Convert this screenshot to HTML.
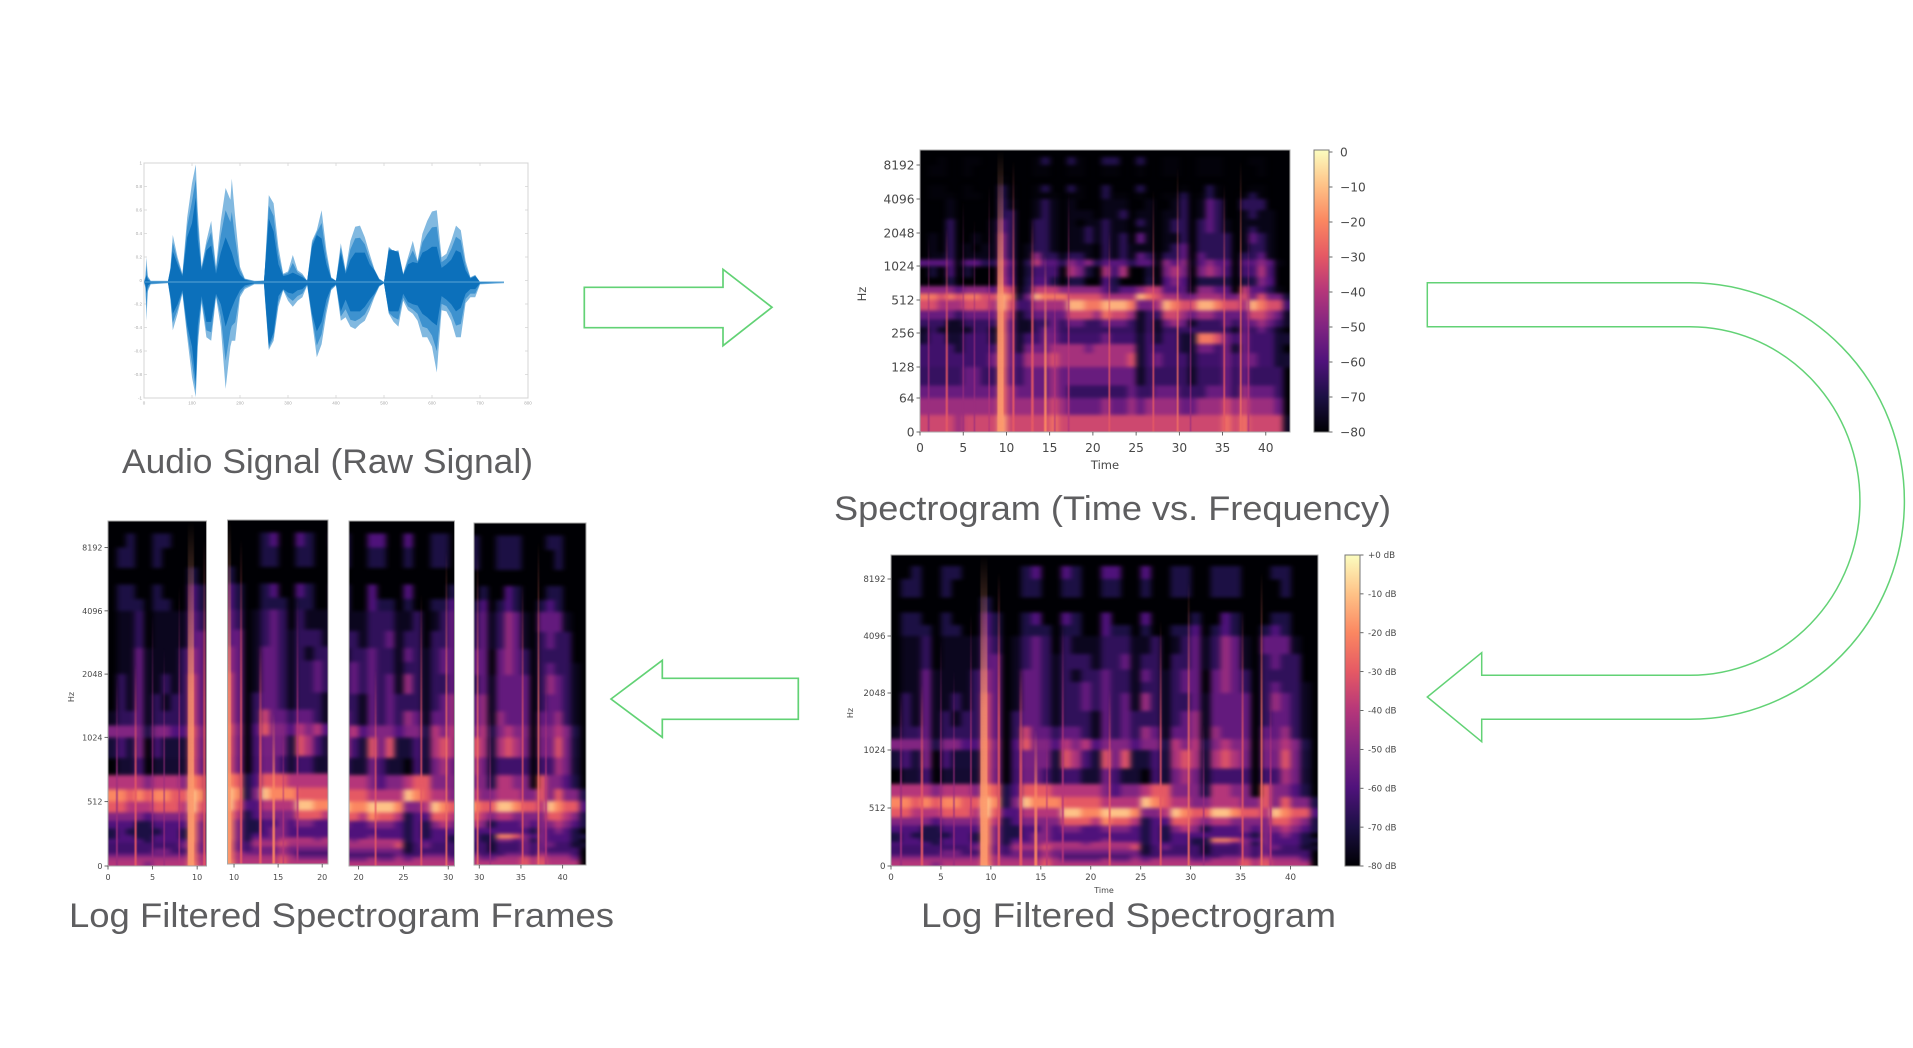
<!DOCTYPE html>
<html lang="en">
<head>
<meta charset="utf-8">
<title>Audio to Spectrogram Frames</title>
<style>
html,body{margin:0;padding:0;background:#fff;width:1913px;height:1048px;overflow:hidden}
svg{display:block}
.title{font-family:"Liberation Sans",sans-serif;font-size:34px;fill:#5e5e60}
.mpl{font-family:"DejaVu Sans",sans-serif;fill:#484848}
</style>
</head>
<body>
<svg id="root" xmlns="http://www.w3.org/2000/svg" width="1913" height="1048" viewBox="0 0 1913 1048">
  <defs>
    <filter id="cellBlur" filterUnits="userSpaceOnUse" x="0" y="0" width="1913" height="1048" color-interpolation-filters="sRGB"><feGaussianBlur stdDeviation="3 1.8"/></filter>
    <filter id="spikeBlur" filterUnits="userSpaceOnUse" x="0" y="0" width="1913" height="1048" color-interpolation-filters="sRGB"><feGaussianBlur stdDeviation="0.6"/></filter>
    <filter id="softBlur" filterUnits="userSpaceOnUse" x="0" y="0" width="1913" height="1048" color-interpolation-filters="sRGB"><feGaussianBlur stdDeviation="0.35"/></filter>
  </defs>
  <rect width="1913" height="1048" fill="#fff"/>

  <polygon points="584.3,287.3 723,287.3 723,269.3 772,307.3 723,345.7 723,327.7 584.3,327.7" fill="none" stroke="#62d275" stroke-width="1.7"/>
  <path d="M1427.3,282.7 H1690 A214.5,218.3 0 0 1 1690,719.3 H1481.7 V741.7 L1427.3,697 L1481.7,652.7 V675.3 H1690 A170,174.3 0 0 0 1690,326.7 H1427.3 Z" fill="none" stroke="#62d275" stroke-width="1.5"/>
  <polygon points="611,699 662.3,660.3 662.3,678.3 798.3,678.3 798.3,719.3 662.3,719.3 662.3,737.3" fill="none" stroke="#62d275" stroke-width="1.7"/>

  <text class="title" x="122" y="473" textLength="411" lengthAdjust="spacingAndGlyphs">Audio Signal (Raw Signal)</text>
  <text class="title" x="834" y="520" textLength="557" lengthAdjust="spacingAndGlyphs">Spectrogram (Time vs. Frequency)</text>
  <text class="title" x="921" y="927" textLength="415" lengthAdjust="spacingAndGlyphs">Log Filtered Spectrogram</text>
  <text class="title" x="69" y="927" textLength="545" lengthAdjust="spacingAndGlyphs">Log Filtered Spectrogram Frames</text>

  <g id="charts"></g>
</svg>

<script>
/* ---------- waveform data (amplitudes) ---------- */
const waveSamples = [0,3,5,8,14,50,55,60,70,80,90,100,108,112,120,130,140,150,160,170,180,183,190,200,210,220,230,250,252,260,270,280,290,300,310,320,330,340,350,360,370,380,390,400,410,420,430,440,450,460,470,480,490,500,510,520,530,540,550,560,570,580,590,600,610,620,630,640,650,660,670,680,690,700,750];
const waveLightUpper = [0,.05,.21,.05,.01,.01,.12,.40,.21,.07,.55,.84,1,.6,.13,.35,.52,.13,.52,.8,.7,.88,.55,.13,.03,.02,.01,.01,.13,.74,.67,.3,.07,.09,.23,.1,.07,.01,.35,.44,.61,.27,.04,.01,.33,.1,.35,.47,.48,.38,.24,.11,.03,0,.3,.26,.27,.07,.21,.35,.18,.41,.52,.6,.61,.21,.24,.35,.48,.44,.18,.04,.06,0,0];
const waveLightLower = [0,-.05,-.33,-.08,-.02,-.01,-.15,-.41,-.27,-.1,-.47,-.81,-.98,-.55,-.18,-.47,-.5,-.13,-.38,-.91,-.55,-.5,-.5,-.13,-.06,-.04,-.02,-.02,-.15,-.58,-.5,-.21,-.07,-.16,-.21,-.16,-.13,-.03,-.33,-.64,-.53,-.27,-.07,-.03,-.33,-.3,-.38,-.4,-.36,-.33,-.24,-.13,-.04,-.01,-.27,-.34,-.38,-.16,-.24,-.27,-.33,-.47,-.47,-.55,-.77,-.24,-.25,-.33,-.47,-.47,-.18,-.13,-.13,-.02,-.01];
const waveDarkUpper = [0,.02,.06,.02,.005,.005,.1,.26,.15,.05,.38,.5,.72,.36,.1,.27,.31,.07,.25,.38,.28,.25,.15,.06,.02,.01,.005,.01,.12,.54,.43,.15,.05,.06,.08,.06,.04,.01,.3,.4,.37,.15,.03,.01,.25,.07,.19,.25,.25,.25,.15,.1,.02,0,.27,.27,.25,.06,.15,.17,.16,.25,.27,.3,.3,.12,.15,.19,.27,.25,.1,.03,.05,0,0];
const waveDarkLower = [0,-.02,-.1,-.03,-.01,-.005,-.12,-.27,-.19,-.07,-.37,-.55,-.85,-.37,-.12,-.34,-.34,-.1,-.19,-.38,-.25,-.22,-.15,-.07,-.03,-.02,-.01,-.01,-.12,-.54,-.43,-.12,-.06,-.09,-.1,-.07,-.06,-.02,-.27,-.42,-.34,-.15,-.05,-.02,-.25,-.15,-.25,-.25,-.25,-.21,-.15,-.1,-.03,-.01,-.25,-.25,-.25,-.1,-.17,-.19,-.2,-.27,-.3,-.34,-.37,-.12,-.15,-.19,-.25,-.22,-.1,-.06,-.06,-.01,0];
const waveXTicks = [0,100,200,300,400,500,600,700,800];
const waveYTicks = [1,0.8,0.6,0.4,0.2,0,-0.2,-0.4,-0.6,-0.8,-1];

/* ---------- spectrogram data ---------- */
/* Lower edge of each frequency band in Hz (plus the final top edge). */
const bandEdgesHz = [0,32,64,90,128,181,215,256,304,362,430,512,609,724,861,1024,1218,1448,1722,2048,2435,2896,3444,4096,4871,5793,6889,8192,9742,11585];
/* Level per band and second. Row 0 = highest band, column 0 = t 0s. One level unit = 10 dB, 0 = -80 dB. */
const spectrogramLevels = [
[0,0,0,0,0, 0,0,0,0, 0,0,0, 0,1,1,0,0, 0,0,0,0, 1,1,1,0, 1,1,0, 0,0,0,0, 1,1,1,0,0, 0,1,1,0,0,0],
[0,1,2,0,0, 2,2,0,0, 1,0,0, 0,2,3,1,0, 3,2,1,0, 3,3,1,0, 3,1,0, 2,2,1,0, 2,2,2,0,0, 0,2,2,0,0,0],
[0,2,2,0,0, 2,1,0,0, 1,1,0, 0,2,2,1,0, 2,2,1,0, 2,2,1,0, 2,1,0, 2,2,0,0, 2,2,2,0,0, 0,1,2,0,0,0],
[0,0,0,0,0, 0,0,0,0, 2,1,0, 0,1,1,0,0, 1,1,0,0, 1,1,1,0, 1,1,0, 1,1,1,0, 1,1,1,0,0, 0,1,1,0,0,0],
[1,2,2,1,0, 2,1,0,0, 3,2,0, 0,2,3,1,0, 3,2,1,0, 3,1,1,0, 3,1,0, 1,1,2,0, 1,3,2,0,0, 1,2,2,0,0,0],
[1,2,2,2,0, 2,2,1,0, 3,2,0, 0,2,2,2,0, 2,2,1,0, 3,2,2,1, 2,1,0, 2,2,3,0, 2,3,2,1,0, 2,3,2,0,0,0],
[0,1,1,2,0, 1,1,1,1, 3,2,0, 1,2,3,2,0, 2,1,1,1, 2,2,2,1, 1,2,0, 1,2,3,1, 2,4,3,1,0, 3,3,3,1,0,0],
[0,1,1,2,0, 1,1,1,1, 3,3,0, 1,2,3,2,1, 2,2,2,1, 2,2,3,1, 2,2,0, 2,2,3,1, 2,4,3,1,0, 2,3,2,2,0,0],
[0,1,1,3,1, 1,1,1,2, 4,3,0, 1,3,3,2,1, 2,1,2,2, 3,2,2,1, 3,2,1, 2,3,3,0, 3,4,3,2,0, 2,2,2,2,0,0],
[0,1,1,3,1, 1,1,1,2, 4,3,0, 1,3,3,2,1, 2,2,3,2, 3,2,2,1, 2,2,1, 2,3,3,0, 3,4,3,2,0, 2,3,2,2,1,0],
[0,2,1,3,1, 1,2,1,2, 5,3,0, 1,3,3,2,1, 2,2,3,2, 3,2,3,1, 4,2,1, 2,2,3,1, 3,3,3,3,0, 2,4,3,2,1,0],
[0,2,1,3,1, 2,1,2,2, 5,3,0, 2,3,3,2,1, 2,2,2,1, 3,2,3,2, 2,2,1, 2,3,4,1, 3,3,3,3,0, 2,3,3,2,1,0],
[1,2,2,3,1, 2,2,2,2, 5,3,0, 2,5,3,3,2, 3,3,2,1, 3,2,3,2, 4,3,1, 3,3,4,1, 4,3,3,3,0, 3,3,4,2,1,0],
[3,3,3,3,1, 3,3,2,2, 5,3,0, 2,5,3,3,2, 4,3,4,2, 3,3,3,2, 3,3,1, 4,3,4,1, 3,4,3,3,0, 3,3,4,3,1,0],
[1,2,1,3,0, 2,1,1,1, 5,3,0, 2,3,3,3,1, 5,4,2,1, 5,3,5,1, 1,2,1, 4,5,4,1, 4,5,4,3,0, 3,3,5,3,1,0],
[0,1,1,2,0, 1,1,1,1, 5,3,0, 2,3,3,2,1, 2,2,1,1, 3,2,1,1, 0,2,1, 3,4,3,1, 2,2,2,2,0, 2,2,4,3,1,0],
[4,4,4,4,3, 4,4,4,3, 6,5,1, 2,5,5,5,4, 4,4,4,4, 3,2,3,3, 4,5,5, 3,3,3,1, 4,4,3,3,0, 5,3,3,2,1,0],
[6,6,5,6,5, 6,6,5,5, 7,6,1, 3,7,6,6,6, 5,5,5,5, 4,4,4,4, 7,6,5, 4,4,3,3, 4,4,4,3,3, 5,3,5,3,3,1],
[5,5,4,4,4, 5,5,5,4, 7,5,2, 2,4,4,4,4, 7,7,6,6, 7,7,7,6, 3,3,4, 7,6,5,5, 7,7,6,5,5, 4,7,6,5,5,2],
[3,3,3,3,2, 3,3,3,3, 6,4,1, 2,3,3,3,3, 5,5,5,4, 6,5,5,4, 1,2,2, 5,5,4,3, 4,4,3,3,3, 3,5,5,4,3,1],
[2,2,2,1,1, 2,2,2,2, 6,3,1, 1,2,2,3,2, 3,3,2,2, 3,3,3,2, 1,2,1, 3,4,3,1, 2,2,2,3,2, 3,3,4,3,2,1],
[1,2,1,1,1, 1,2,2,1, 6,3,1, 1,2,3,3,2, 2,2,2,2, 2,2,2,2, 1,2,1, 2,2,2,2, 2,2,2,2,1, 3,2,3,2,1,0],
[1,2,2,1,1, 2,2,2,1, 6,3,1, 2,2,3,3,2, 2,2,2,2, 3,2,2,2, 1,2,1, 2,2,1,1, 6,6,5,3,2, 3,2,2,2,1,1],
[2,2,2,2,1, 2,2,2,2, 6,3,1, 3,3,3,4,4, 4,4,3,4, 4,4,4,4, 1,2,2, 2,2,1,1, 3,3,2,3,1, 3,2,2,2,1,0],
[2,2,2,2,2, 2,2,2,3, 6,3,2, 4,4,4,5,4, 4,4,4,4, 4,4,4,5, 1,2,3, 2,2,2,1, 2,2,2,3,2, 3,3,2,2,1,1],
[2,2,2,2,2, 3,3,2,2, 6,3,2, 3,3,3,4,3, 3,3,3,3, 3,3,3,3, 1,2,2, 2,2,2,1, 2,2,2,3,2, 3,2,2,2,2,0],
[3,3,3,3,3, 3,3,3,3, 6,4,3, 3,3,3,4,3, 2,2,2,2, 2,2,2,3, 2,2,3, 3,3,2,2, 2,3,3,3,2, 4,3,3,3,2,0],
[4,4,4,4,4, 4,4,4,4, 6,4,4, 4,4,4,5,4, 3,3,3,3, 4,3,3,4, 3,4,4, 4,4,3,3, 4,4,4,5,4, 5,4,4,4,3,0],
[5,5,5,5,4, 5,5,5,5, 7,5,5, 5,5,5,6,5, 5,5,5,5, 5,5,5,5, 5,5,5, 5,5,5,5, 5,5,5,6,5, 6,5,5,5,5,1]
];
/* Level offset per band, lowest band first. */
const plainBandOffset = [-.5,-.5,-.5,-.5,-.3,-.3,-.3,-.5,-.5,-.5,-.3,-.3,-.8,-1,-1.2,-.8,-1.7,-1.7,-1.7,-1.7,-1.7,-1.7,-1.7,-1.9,-1.9,-1.9,-1.9,-1.9,-1.9];
const logBandOffset = [-1,-.3,-.3,-.3,-.3,0,0,0,0,0,0,0,0,-.3,-.2,0,-.6,-.6,-.6,-.6,-.6,-.6,-.6,-1,-1,-1,-1,-1,-1];
/* Thin broadband transients. */
const spikeTimes = [1,3.1,5,6.3,8,9.3,10.8,13,14.5,15.6,17.2,21.9,27,29.8,31.3,35.2,37.1,38];
const spikeTopHz = [2000,2400,4000,2900,5800,11000,9000,3000,1400,1200,5000,2200,5200,8000,1500,6000,9000,2000];
const spikeLevels = [3.5,5,3.5,3.5,4,6.3,5,5,6,4,4,5,5,5.5,3.5,5,5.5,4];
const spikeDurations = [.2,.25,.15,.15,.15,.7,.25,.3,.3,.15,.2,.2,.2,.2,.15,.2,.2,.2];

const frameTicksHz = [8192,4096,2048,1024,512,0];
const plainTicksHz = [8192,4096,2048,1024,512,256,128,64,0];
const plainTimeTicks = [0,5,10,15,20,25,30,35,40];
const plainColorTicks = [0,-10,-20,-30,-40,-50,-60,-70,-80];
const logColorTicks = [0,-10,-20,-30,-40,-50,-60,-70,-80];
const frameOneTicks = [0,5,10];
const frameTwoTicks = [10,15,20];
const frameThreeTicks = [20,25,30];
const frameFourTicks = [30,35,40];

/* ---------- helpers ---------- */
const NS = 'http://www.w3.org/2000/svg';
const charts = document.getElementById('charts');
const defs = document.querySelector('defs');
function mk(tag, attrs, parent){
  const e = document.createElementNS(NS, tag);
  for (const k in attrs) e.setAttribute(k, attrs[k]);
  parent.appendChild(e);
  return e;
}
const MAGMA = [[0,0,4],[28,16,68],[79,18,123],[129,37,129],[181,54,122],[229,89,100],[251,135,97],[254,194,135],[252,253,191]];
function colorFor(level){
  const v = Math.max(0, Math.min(8, level));
  const i = Math.min(7, Math.floor(v));
  const f = v - i;
  const a = MAGMA[i], b = MAGMA[i + 1];
  return 'rgb(' + [0,1,2].map(c => Math.round(a[c] + (b[c] - a[c]) * f)).join(',') + ')';
}
function interp(v, xs, ys){
  if (v <= xs[0]) return ys[0];
  for (let i = 1; i < xs.length; i++) {
    if (v <= xs[i]) return ys[i-1] + (ys[i] - ys[i-1]) * (v - xs[i-1]) / (xs[i] - xs[i-1]);
  }
  return ys[ys.length - 1];
}
const AXIS_HZ = [0,64,128,256,512,1024,2048,4096,8192,11585];
const PLAIN_FRAC = [282,248,217,183,150,116,83,49,15,-2].map(v => v / 282);
const LOG_FRAC = [311,303,295,283,253,195,138,81,24,-4].map(v => v / 311);

function addText(parent, str, x, y, size, anchor, name, rotate){
  const t = mk('text', {x:x, y:y, 'font-size':size, 'text-anchor':anchor, class:'mpl'}, parent);
  if (rotate) t.setAttribute('transform', 'rotate(-90 ' + x + ' ' + y + ')');
  t.textContent = str;
  
  
  return t;
}

/* shared fade gradients for the transients */
function fadeGradient(level){
  const id = 'fade' + String(level).replace('.', '_');
  if (!document.getElementById(id)) {
    const g = mk('linearGradient', {id:id, x1:0, y1:0, x2:0, y2:1}, defs);
    mk('stop', {offset:0, 'stop-color':colorFor(level), 'stop-opacity':0}, g);
    mk('stop', {offset:.5, 'stop-color':colorFor(level), 'stop-opacity':.75}, g);
    mk('stop', {offset:1, 'stop-color':colorFor(level), 'stop-opacity':.95}, g);
  }
  return 'url(#' + id + ')';
}

let clipCount = 0;
function drawSpectrogram(cfg){
  const group = mk('g', {}, charts);
  
  
  const w = cfg.right - cfg.left, h = cfg.bottom - cfg.top;
  const pps = w / (cfg.tEnd - cfg.tStart);
  const xOf = t => cfg.left + (t - cfg.tStart) * pps;
  const yOf = hz => cfg.top + h * interp(hz, AXIS_HZ, cfg.frac);

  const clipId = 'clip' + (clipCount++);
  const clip = mk('clipPath', {id:clipId}, defs);
  mk('rect', {x:cfg.left, y:cfg.top, width:w, height:h}, clip);

  const plot = mk('g', {'clip-path':'url(#' + clipId + ')'}, group);
  
  
  const bg = mk('rect', {x:cfg.left, y:cfg.top, width:w, height:h, fill:'#000004'}, plot);
  
  

  const cells = mk('g', {filter:'url(#cellBlur)', 'shape-rendering':'crispEdges'}, plot);
  
  
  const nBands = spectrogramLevels.length;
  spectrogramLevels.forEach((row, r) => {
    const band = nBands - 1 - r;
    row.forEach((value, t) => {
      if (t + 1 < cfg.tStart - 2 || t > cfg.tEnd + 2) return;
      const level = value + (value > 0 ? cfg.bandOffset[band] : 0);
      if (level <= 0) return;
      let x0 = xOf(t), x1 = xOf(t + 1) + .5;
      if (t === 0) x0 -= 14;
      if (t === row.length - 1) x1 += 14;
      const yHi = yOf(bandEdgesHz[band + 1]) - (band === nBands - 1 ? 14 : 0);
      const yLo = yOf(bandEdgesHz[band]) + (band === 0 ? 14 : .5);
      const cell = mk('rect', {x:x0.toFixed(1), y:yHi.toFixed(1), width:(x1 - x0).toFixed(1), height:(yLo - yHi).toFixed(1), fill:colorFor(level)}, cells);
      
      
    });
  });

  const spikes = mk('g', {filter:'url(#spikeBlur)'}, plot);
  
  
  spikeTimes.forEach((t, i) => {
    if (t < cfg.tStart - 1 || t > cfg.tEnd + 1) return;
    const y0 = yOf(spikeTopHz[i]);
    const bar = mk('rect', {
      x:(xOf(t) - spikeDurations[i] * pps / 2).toFixed(1), y:y0.toFixed(1),
      width:Math.max(1, spikeDurations[i] * pps).toFixed(1), height:(cfg.bottom - y0).toFixed(1),
      fill:fadeGradient(spikeLevels[i])
    }, spikes);
    
    
  });

  const frame = mk('rect', {x:cfg.left, y:cfg.top, width:w, height:h, fill:'none', stroke:'#a8a8a8', 'stroke-width':1}, group);
  
  

  const labels = mk('g', {filter:'url(#softBlur)'}, group);
  
  
  cfg.timeTicks.forEach(t => {
    const x = xOf(t);
    const tick = mk('line', {x1:x, x2:x, y1:cfg.bottom, y2:cfg.bottom + 3.5, stroke:'#444', 'stroke-width':.8}, labels);
    
    
    addText(labels, String(t), x, cfg.xLabelY, cfg.fontSize, 'middle', 'x-tick-label');
  });
  if (cfg.hzTicks) cfg.hzTicks.forEach(hz => {
    const y = yOf(hz);
    const tick = mk('line', {x1:cfg.left - 3.5, x2:cfg.left, y1:y, y2:y, stroke:'#444', 'stroke-width':.8}, labels);
    
    
    addText(labels, String(hz), cfg.left - 5.5, y + cfg.fontSize * .37, cfg.fontSize, 'end', 'y-tick-label');
  });
  if (cfg.timeLabel) addText(labels, 'Time', cfg.timeLabel[0], cfg.timeLabel[1], cfg.labelSize, 'middle', 'x-axis-title');
  if (cfg.hzLabel) addText(labels, 'Hz', cfg.hzLabel[0], cfg.hzLabel[1], cfg.labelSize, 'middle', 'y-axis-title', true);

  if (cfg.bar) drawColorbar(group, labels, cfg);
}

function drawColorbar(group, labels, cfg){
  const b = cfg.bar;
  const gid = 'cbar' + cfg.name;
  const grad = mk('linearGradient', {id:gid, x1:0, y1:1, x2:0, y2:0}, defs);
  MAGMA.forEach((c, i) => {
    mk('stop', {offset:i / 8, 'stop-color':'rgb(' + c.join(',') + ')'}, grad);
  });
  const bar = mk('rect', {x:b.left, y:b.top, width:b.right - b.left, height:b.bottom - b.top, fill:'url(#' + gid + ')', stroke:'#777', 'stroke-width':1}, group);
  
  
  const yOfDb = db => b.zeroY + (-db / 80) * (b.bottom - b.zeroY);
  b.ticks.forEach(db => {
    const y = yOfDb(db);
    const tick = mk('line', {x1:b.right, x2:b.right + 3.5, y1:y, y2:y, stroke:'#444', 'stroke-width':.8}, labels);
    
    
    addText(labels, b.format(db), b.labelX, y + b.fontSize * .37, b.fontSize, 'start', 'colorbar-tick-label');
  });
}

function drawWaveform(){
  const L = 144, R = 528, T = 163, B = 398;
  const xOf = v => L + (v / 800) * (R - L);
  const yOf = a => (T + B) / 2 + 1.5 - a * (B - T) / 2;
  const g = mk('g', {}, charts);
  
  

  const box = mk('rect', {x:L, y:T, width:R - L, height:B - T, fill:'#fff', stroke:'#d4d4d4', 'stroke-width':1}, g);
  
  
  waveXTicks.forEach(v => {
    const x = xOf(v);
    const tick = mk('path', {d:'M' + x + ',' + B + 'v-3M' + x + ',' + T + 'v3', stroke:'#d4d4d4', 'stroke-width':.8, fill:'none'}, g);
    
    
    const lab = mk('text', {x:x, y:B + 6.5, 'font-size':4.5, 'text-anchor':'middle', fill:'#a8a8a8', 'font-family':'"Liberation Sans",sans-serif'}, g);
    lab.textContent = String(v);
    
    
  });
  waveYTicks.forEach(v => {
    const y = yOf(v) - 1.5;
    const tick = mk('path', {d:'M' + L + ',' + y + 'h3M' + R + ',' + y + 'h-3', stroke:'#d4d4d4', 'stroke-width':.8, fill:'none'}, g);
    
    
    const lab = mk('text', {x:L - 2, y:y + 1.6, 'font-size':4.5, 'text-anchor':'end', fill:'#a8a8a8', 'font-family':'"Liberation Sans",sans-serif'}, g);
    lab.textContent = String(v);
    
    
  });

  const outline = (upper, lower) => {
    const top = waveSamples.map((v, i) => xOf(v).toFixed(1) + ',' + yOf(upper[i]).toFixed(1));
    const bot = waveSamples.map((v, i) => xOf(v).toFixed(1) + ',' + yOf(lower[i]).toFixed(1)).reverse();
    return top.concat(bot).join(' ');
  };
  const blend = (a, b) => a.map((v, i) => v * .55 + b[i] * .45);
  const wave = mk('g', {filter:'url(#softBlur)'}, g);
  
  
  const light = mk('polygon', {points:outline(waveLightUpper, waveLightLower), fill:'#82b9e0'}, wave);
  
  
  const mid = mk('polygon', {points:outline(blend(waveLightUpper, waveDarkUpper), blend(waveLightLower, waveDarkLower)), fill:'#3e92cf'}, wave);
  
  
  const dark = mk('polygon', {points:outline(waveDarkUpper, waveDarkLower), fill:'#0c70bb'}, wave);
  
  
  const zero = mk('line', {x1:xOf(waveSamples[0]), x2:xOf(waveSamples[waveSamples.length - 1]), y1:yOf(0), y2:yOf(0), stroke:'#5aa3d6', 'stroke-width':1}, wave);
  
  
}

drawWaveform();

drawSpectrogram({
  name:'spectrogram-chart', left:920, right:1290, top:150, bottom:432, tStart:0, tEnd:42.8,
  frac:PLAIN_FRAC, bandOffset:plainBandOffset, timeTicks:plainTimeTicks, hzTicks:plainTicksHz,
  fontSize:12.2, labelSize:11.5, xLabelY:452, timeLabel:[1105,469], hzLabel:[866,294],
  bar:{left:1314, right:1329, top:150, bottom:432, zeroY:152, ticks:plainColorTicks, labelX:1340, fontSize:12.2,
       format:db => db === 0 ? '0' : '\u2212' + Math.abs(db)}
});
drawSpectrogram({
  name:'log-filtered-spectrogram-chart', left:891, right:1318, top:555, bottom:866, tStart:0, tEnd:42.75,
  frac:LOG_FRAC, bandOffset:logBandOffset, timeTicks:plainTimeTicks, hzTicks:frameTicksHz,
  fontSize:8.7, labelSize:8, xLabelY:880, timeLabel:[1104,893], hzLabel:[853,713],
  bar:{left:1345, right:1360, top:555, bottom:866, zeroY:555, ticks:logColorTicks, labelX:1368, fontSize:8.7,
       format:db => db === 0 ? '+0 dB' : db + ' dB'}
});
drawSpectrogram({
  name:'frame-1-chart', left:108, right:206.5, top:521, bottom:866, tStart:0, tEnd:11.05,
  frac:LOG_FRAC, bandOffset:logBandOffset, timeTicks:frameOneTicks, hzTicks:frameTicksHz,
  fontSize:8, labelSize:8, xLabelY:880, hzLabel:[74,697]
});
drawSpectrogram({
  name:'frame-2-chart', left:227.5, right:328, top:520, bottom:864, tStart:9.26, tEnd:20.66,
  frac:LOG_FRAC, bandOffset:logBandOffset, timeTicks:frameTwoTicks, fontSize:8, labelSize:8, xLabelY:880
});
drawSpectrogram({
  name:'frame-3-chart', left:349, right:454.5, top:521, bottom:866, tStart:18.93, tEnd:30.7,
  frac:LOG_FRAC, bandOffset:logBandOffset, timeTicks:frameThreeTicks, fontSize:8, labelSize:8, xLabelY:880
});
drawSpectrogram({
  name:'frame-4-chart', left:474, right:586, top:523, bottom:865, tStart:29.37, tEnd:42.8,
  frac:LOG_FRAC, bandOffset:logBandOffset, timeTicks:frameFourTicks, fontSize:8, labelSize:8, xLabelY:880
});
</script>
</body>
</html>
